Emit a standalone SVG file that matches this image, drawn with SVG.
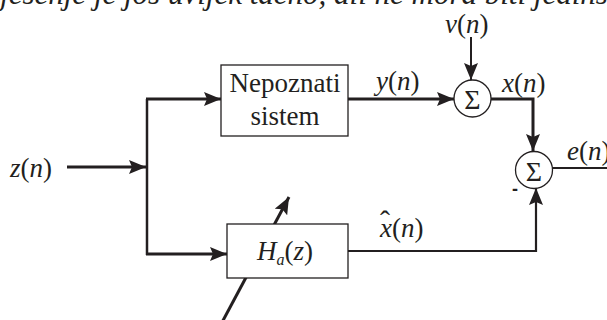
<svg xmlns="http://www.w3.org/2000/svg" width="607" height="320" viewBox="0 0 607 320">
<defs>
<style>
.i{font-style:italic}
.box{fill:#fff;stroke:#231f20;stroke-width:1.3}
.sum{fill:#fff;stroke:#231f20;stroke-width:1.3}
.w{fill:none;stroke:#231f20;stroke-linejoin:miter}
</style>
<marker id="arr" viewBox="0 0 17 14" refX="17" refY="7" markerWidth="17" markerHeight="14" markerUnits="userSpaceOnUse" orient="auto">
<path d="M0,0 L17,7 L0,14 L3,7 Z" fill="#231f20"/>
</marker>
</defs>
<rect width="607" height="320" fill="#fff"/>
<g font-family="Liberation Serif, Times New Roman, serif" fill="#231f20">
<text class="i" x="-12" y="4" font-size="31">rješenje je još uvijek tačno, ali ne mora biti jedinstveno</text>
</g>
<g id="connectors">
<path class="w" stroke-width="3" d="M67,167 H146" marker-end="url(#arr)"/>
<path class="w" stroke-width="2.5" d="M147,99 V255"/>
<path class="w" stroke-width="3" d="M146,99 H221" marker-end="url(#arr)"/>
<path class="w" stroke-width="3" d="M146,254 H227" marker-end="url(#arr)"/>
<path class="w" stroke-width="3" d="M348,99 H454" marker-end="url(#arr)"/>
<path class="w" stroke-width="2" d="M471,37 V80" marker-end="url(#arr)"/>
<path class="w" stroke-width="3" d="M491,99 H533 V151" marker-end="url(#arr)"/>
<path class="w" stroke-width="2.2" d="M348,251 H536 V188" marker-end="url(#arr)"/>
<path class="w" stroke-width="2" d="M552,168 H607"/>
<path class="w" stroke-width="3" d="M219,328 L289,197" marker-end="url(#arr)"/>
</g>
<g font-family="Liberation Serif, Times New Roman, serif" fill="#231f20">
<g id="unknown-system">
<rect class="box" x="221" y="65" width="127" height="71"/>
<text x="285" y="92" font-size="27" text-anchor="middle">Nepoznati</text>
<text x="285" y="125" font-size="27" text-anchor="middle">sistem</text>
</g>
<g id="adaptive-filter">
<rect class="box" x="227" y="224" width="121" height="54"/>
<text x="257" y="260" font-size="27"><tspan class="i">H</tspan><tspan class="i" font-size="16" dy="5">a</tspan><tspan dy="-5">(</tspan><tspan class="i">z</tspan>)</text>
</g>
<g id="sum1">
<circle class="sum" cx="472.5" cy="98.5" r="18.5"/>
<text x="472.5" y="109" font-size="28" text-anchor="middle">Σ</text>
</g>
<g id="sum2">
<circle class="sum" cx="534" cy="170" r="18.5"/>
<text x="534" y="180.5" font-size="28" text-anchor="middle">Σ</text>
<text x="512" y="195" font-family="Liberation Sans, Arial, sans-serif" font-weight="bold" font-size="18">-</text>
</g>
<g id="labels" font-size="27">
<text x="10" y="177"><tspan class="i">z</tspan>(<tspan class="i">n</tspan>)</text>
<text x="376" y="90"><tspan class="i">y</tspan>(<tspan class="i">n</tspan>)</text>
<text x="445" y="33"><tspan class="i">v</tspan>(<tspan class="i">n</tspan>)</text>
<text x="502" y="92"><tspan class="i">x</tspan>(<tspan class="i">n</tspan>)</text>
<text x="567" y="160"><tspan class="i">e</tspan>(<tspan class="i">n</tspan>)</text>
<text x="380" y="237"><tspan class="i">x</tspan>(<tspan class="i">n</tspan>)</text>
<text x="380" y="231" font-size="30">ˆ</text>
</g>
</g>
</svg>
